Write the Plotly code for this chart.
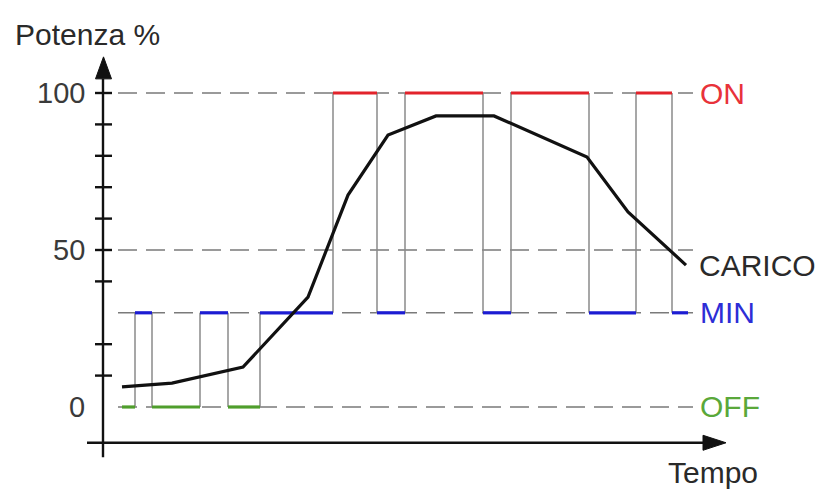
import plotly.graph_objects as go

# Instants (arbitrary time units) where the compressor changes step,
# and the power level held between consecutive instants
switch_t = [1.9, 3.2, 4.9, 9.7, 12.5, 15.7, 23.0, 27.4, 30.2, 38.0, 40.8, 48.6, 53.3, 56.9, 58.5]
switch_level = [0, 30, 0, 30, 0, 30, 100, 30, 100, 30, 100, 30, 100, 30]

# Thermal load requested by the building
load_t = [1.9, 6.9, 14.0, 20.5, 24.5, 28.5, 33.3, 39.1, 48.4, 52.5, 58.3]
load_pct = [6.4, 7.6, 12.7, 35.0, 67.5, 86.6, 92.7, 92.7, 79.6, 62.1, 45.2]

# Reference levels drawn as dashed guides
guide_levels = [100, 50, 30, 0]
level_names = {100: "ON", 30: "MIN", 0: "OFF"}
level_colors = {100: "#e2232b", 30: "#1c1cd2", 0: "#4f9e2c"}
label_colors = {100: "#e8323a", 30: "#2d2dd6", 0: "#5aa83a"}

tick_values = [10, 20, 40, 50, 60, 70, 80, 90, 100]
tick_labels = [0, 50, 100]

X_RANGE = [-10.3, 72.1]
Y_RANGE = [-28.03, 129.62]
GUIDE_START, GUIDE_END = 1.5, 59.0
AXIS_X_MIN, AXIS_X_END = -1.6, 60.0
AXIS_Y_MIN, AXIS_Y_END = -16.0, 104.5
X_AXIS_LEVEL = -11.4

FONT = "Liberation Sans, Arial, sans-serif"

fig = go.Figure()
shapes = []
annotations = []

# dashed guides
for lv in guide_levels:
    shapes.append(dict(type="line", xref="x", yref="y",
                       x0=GUIDE_START, x1=GUIDE_END, y0=lv, y1=lv,
                       line=dict(color="#7a7a7a", width=1.4, dash="19px,9px"),
                       layer="below"))

# vertical transitions of the step signal
for i in range(1, len(switch_level)):
    t = switch_t[i]
    lo, hi = sorted([switch_level[i - 1], switch_level[i]])
    fig.add_trace(go.Scatter(x=[t, t], y=[lo, hi], mode="lines",
                             line=dict(color="#8a8a8a", width=1.5),
                             hoverinfo="skip", showlegend=False))

# coloured holding segments
for i, lv in enumerate(switch_level):
    fig.add_trace(go.Scatter(x=[switch_t[i], switch_t[i + 1]], y=[lv, lv],
                             mode="lines",
                             line=dict(color=level_colors[lv], width=3.2),
                             hoverinfo="skip", showlegend=False))

# load curve
fig.add_trace(go.Scatter(x=load_t, y=load_pct, mode="lines",
                         line=dict(color="#111111", width=3.2),
                         hoverinfo="skip", showlegend=False))

# axes with arrow heads
shapes.append(dict(type="line", xref="x", yref="y", x0=0, x1=0,
                   y0=AXIS_Y_MIN, y1=AXIS_Y_END,
                   line=dict(color="#111111", width=2.4)))
shapes.append(dict(type="line", xref="x", yref="y", x0=AXIS_X_MIN, x1=AXIS_X_END,
                   y0=X_AXIS_LEVEL, y1=X_AXIS_LEVEL,
                   line=dict(color="#111111", width=2.4)))
shapes.append(dict(type="path", xref="x", yref="y",
                   xsizemode="pixel", ysizemode="pixel",
                   xanchor=0, yanchor=AXIS_Y_END,
                   path="M -7.5,0 L 0.5,22 L 8.5,0 Z",
                   fillcolor="#111111", line=dict(color="#111111", width=1)))
shapes.append(dict(type="path", xref="x", yref="y",
                   xsizemode="pixel", ysizemode="pixel",
                   xanchor=AXIS_X_END, yanchor=X_AXIS_LEVEL,
                   path="M 0,7.5 L 23,0 L 0,-7.5 Z",
                   fillcolor="#111111", line=dict(color="#111111", width=1)))

# tick marks on the power axis
for tv in tick_values:
    shapes.append(dict(type="line", xref="x", yref="y",
                       xsizemode="pixel", xanchor=0, x0=-8, x1=9,
                       y0=tv, y1=tv,
                       line=dict(color="#111111", width=2.4)))

for tl in tick_labels:
    annotations.append(dict(x=AXIS_X_MIN, y=tl, xref="x", yref="y",
                            text=str(tl), showarrow=False,
                            xanchor="right", yanchor="middle",
                            font=dict(family=FONT, size=29, color="#3a3a3a")))

# level names on the right
for lv, name in level_names.items():
    annotations.append(dict(x=GUIDE_END + 0.5, y=lv, xref="x", yref="y",
                            text=name, showarrow=False,
                            xanchor="left", yanchor="middle",
                            font=dict(family=FONT, size=30, color=label_colors[lv])))
annotations.append(dict(x=GUIDE_END + 0.4, y=load_pct[-1], xref="x", yref="y",
                        text="CARICO", showarrow=False,
                        xanchor="left", yanchor="middle",
                        font=dict(family=FONT, size=30, color="#2a2a2a")))

# axis titles
annotations.append(dict(x=-9.0, y=118.5, xref="x", yref="y",
                        text="Potenza %", showarrow=False,
                        xanchor="left", yanchor="middle",
                        font=dict(family=FONT, size=30, color="#2a2a2a")))
annotations.append(dict(x=56.3, y=-21.0, xref="x", yref="y",
                        text="Tempo", showarrow=False,
                        xanchor="left", yanchor="middle",
                        font=dict(family=FONT, size=30, color="#2a2a2a")))

fig.update_layout(
    width=824, height=495,
    margin=dict(l=0, r=0, t=0, b=0),
    paper_bgcolor="white", plot_bgcolor="white",
    xaxis=dict(range=X_RANGE, visible=False, fixedrange=True),
    yaxis=dict(range=Y_RANGE, visible=False, fixedrange=True),
    shapes=shapes, annotations=annotations,
    showlegend=False,
)

fig.write_html("out.html")
